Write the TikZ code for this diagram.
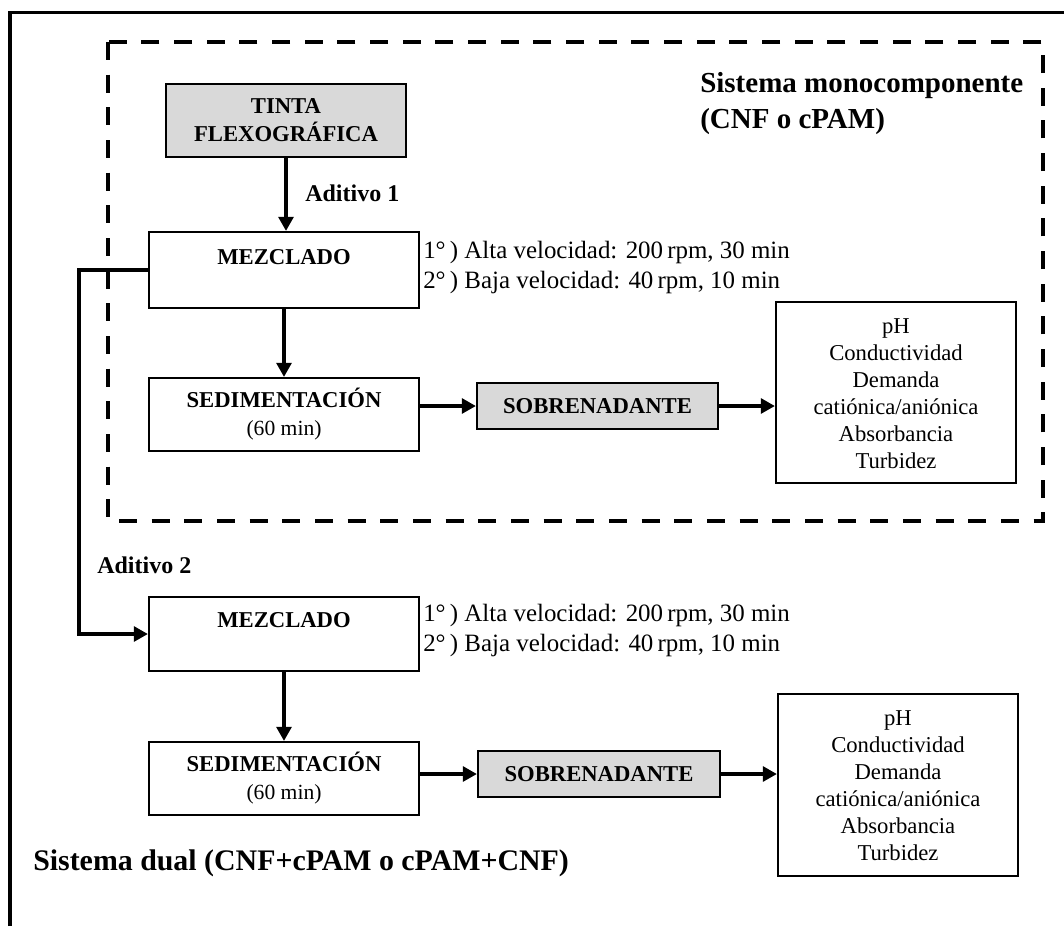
\documentclass[tikz,border=0pt]{standalone}
\usepackage{fontspec}
\setmainfont{Liberation Serif}
\usetikzlibrary{arrows.meta}
\definecolor{boxgray}{HTML}{D9D9D9}
\newcommand{\lblfont}{\fontsize{17}{21}\selectfont\bfseries}
\newcommand{\subfont}{\fontsize{16.2}{21}\selectfont\mdseries}
\newcommand{\bodyfont}{\fontsize{18.7}{22.5}\selectfont}
\newcommand{\resfont}{\fontsize{17}{20.25}\selectfont}
\newcommand{\addfont}{\fontsize{18}{22}\selectfont\bfseries}
\newcommand{\titlefont}{\fontsize{21.75}{27.5}\selectfont\bfseries}
\newcommand{\dualfont}{\fontsize{22.4}{27.5}\selectfont\bfseries}
\tikzset{
  procbox/.style={draw=black, line width=1.6pt, fill=white, inner sep=0pt, align=center},
  graybox/.style={procbox, fill=boxgray},
  arr/.style={line width=3pt, -{Triangle[length=10.5pt,width=11pt]}},
  lbl/.style={font=\lblfont, inner sep=0pt},
  bodytext/.style={font=\bodyfont, align=left, anchor=west, inner sep=0pt},
  addtext/.style={font=\addfont, anchor=west, inner sep=0pt},
  titletext/.style={font=\titlefont, align=left, anchor=west, inner sep=0pt},
  frameline/.style={line width=2.4pt},
  dashframe/.style={line width=3pt, dash pattern=on 13.5pt off 11pt},
}
\begin{document}
\begin{tikzpicture}[x=0.75pt, y=-0.75pt]
\useasboundingbox (0,0) rectangle (1064,926);
\fill[white] (0,0) rectangle (1064,926);
% outer frame (open at right and bottom)
\draw[frameline] (10,926) -- (10,12.5) -- (1064,12.5);
% dashed frame
\draw[dashframe] (108,42) rectangle (1043,521);

% titles
\node[titletext] (ttl1) at (700,103.5) {Sistema monocomponente\\(CNF o cPAM)};
\node[titletext, font=\dualfont] (ttl2) at (33,863) {Sistema dual (CNF+cPAM o cPAM+CNF)};

% --- system 1
\node[graybox, font=\lblfont, minimum width={240*0.75pt}, minimum height={73*0.75pt}] (tinta) at (286,120.5) {TINTA\\FLEXOGRÁFICA};
\node[procbox, minimum width={270*0.75pt}, minimum height={76*0.75pt}] (mez1) at (284,270) {};
\node[lbl] (mez1t) at (284,257) {MEZCLADO};
\node[bodytext] (cond1) at (423,267) {1°\,) Alta velocidad: 200\,rpm, 30 min\\2°\,) Baja velocidad: 40\,rpm, 10 min};
\node[procbox, font=\lblfont, minimum width={270*0.75pt}, minimum height={73*0.75pt}] (sed1) at (284,414.5) {SEDIMENTACIÓN\\{\subfont (60 min)}};
\node[graybox, font=\lblfont, minimum width={241*0.75pt}, minimum height={46*0.75pt}] (sob1) at (597.5,406) {SOBRENADANTE};
\node[procbox, font=\resfont, minimum width={240*0.75pt}, minimum height={181*0.75pt}] (res1) at (896,392.5) {\\[-8pt]pH\\Conductividad\\Demanda\\catiónica/aniónica\\Absorbancia\\Turbidez};
\node[addtext] (add1) at (305,193) {Aditivo 1};

\draw[arr] (tinta.south) -- (tinta.south |- mez1.north);
\draw[arr] (mez1.south) -- (sed1.north);
\draw[arr] (sob1.west -| sed1.east) -- (sob1.west);
\draw[arr] (sob1.east) -- (sob1.east -| res1.west);

% --- system 2
\node[procbox, minimum width={270*0.75pt}, minimum height={74*0.75pt}] (mez2) at (284,634) {};
\node[lbl] (mez2t) at (284,620) {MEZCLADO};
\node[bodytext] (cond2) at (423,630) {1°\,) Alta velocidad: 200\,rpm, 30 min\\2°\,) Baja velocidad: 40\,rpm, 10 min};
\node[procbox, font=\lblfont, minimum width={270*0.75pt}, minimum height={73*0.75pt}] (sed2) at (284,778.5) {SEDIMENTACIÓN\\{\subfont (60 min)}};
\node[graybox, font=\lblfont, minimum width={242*0.75pt}, minimum height={46*0.75pt}] (sob2) at (599,774) {SOBRENADANTE};
\node[procbox, font=\resfont, minimum width={240*0.75pt}, minimum height={182*0.75pt}] (res2) at (898,785) {\\[-8pt]pH\\Conductividad\\Demanda\\catiónica/aniónica\\Absorbancia\\Turbidez};
\node[addtext] (add2) at (97,565) {Aditivo 2};

\coordinate (bend) at (79,270);
\draw[arr] (mez1.west) -- (bend) |- (mez2.west);
\draw[arr] (mez2.south) -- (sed2.north);
\draw[arr] (sob2.west -| sed2.east) -- (sob2.west);
\draw[arr] (sob2.east) -- (sob2.east -| res2.west);
\end{tikzpicture}
\end{document}
